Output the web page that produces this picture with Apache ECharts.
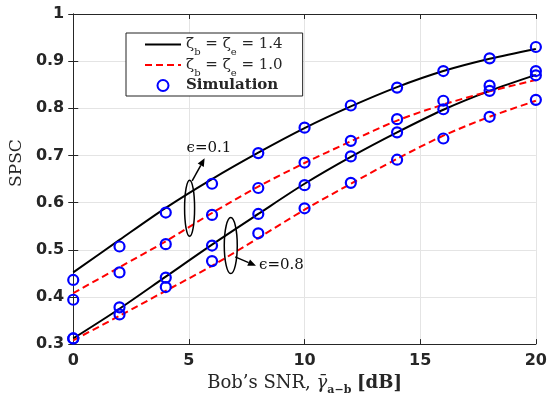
<!DOCTYPE html>
<html><head><meta charset="utf-8">
<script src="https://cdn.jsdelivr.net/npm/echarts@6/dist/echarts.min.js"></script>
<style>html,body{margin:0;padding:0;background:#fff}#c{width:550px;height:401px}</style>
</head><body><div id="c"></div>
<script>
// ---- data ----
const snr = [0, 2, 4, 6, 8, 10, 12, 14, 16, 18, 20];
const xTicks = [0, 5, 10, 15, 20];
const yTicks = [0.3, 0.4, 0.5, 0.6, 0.7, 0.8, 0.9, 1];
// analytical curves
const theo14_e01 = [0.452, 0.521, 0.589, 0.650, 0.706, 0.758, 0.804, 0.845, 0.879, 0.905, 0.926];
const theo10_e01 = [0.408, 0.463, 0.518, 0.578, 0.634, 0.684, 0.730, 0.774, 0.808, 0.836, 0.860];
const theo14_e08 = [0.312, 0.375, 0.443, 0.511, 0.576, 0.640, 0.697, 0.749, 0.797, 0.837, 0.871];
const theo10_e08 = [0.308, 0.360, 0.413, 0.466, 0.525, 0.585, 0.640, 0.693, 0.742, 0.782, 0.816];
// simulation points
const sim14_e01 = [0.436, 0.507, 0.579, 0.640, 0.705, 0.759, 0.806, 0.844, 0.879, 0.906, 0.930];
const sim10_e01 = [0.394, 0.452, 0.512, 0.574, 0.631, 0.685, 0.731, 0.777, 0.816, 0.848, 0.879];
const sim14_e08 = [0.312, 0.378, 0.441, 0.509, 0.576, 0.637, 0.698, 0.749, 0.798, 0.837, 0.870];
const sim10_e08 = [0.312, 0.363, 0.421, 0.476, 0.535, 0.588, 0.642, 0.691, 0.736, 0.782, 0.818];
const legendNames = ['L14', 'L10', 'Simulation'];
const legendValues = {L14: '1.4', L10: '1.0'};
const annText = ['\u03f5=0.1', '\u03f5=0.8'];
// annotation anchors in data coordinates
const annEllipse = [[5.03, 0.588], [6.81, 0.509]];
const annArrow = [[[5.14, 0.646], [5.68, 0.694]], [[7.0, 0.485], [7.9, 0.466]]];
const annLabel = [[4.9, 0.715], [8.03, 0.468]];

const pair = (ys) => snr.map((x, i) => [x, ys[i]]);
const AX = '#262626';
const serif = 'DejaVu Serif';
const sans = 'DejaVu Sans';

const chart = echarts.init(document.getElementById('c'));

function lineSeries(name, ys, color, type) {
  return {type: 'line', name, data: pair(ys), symbol: 'none', smooth: 0.3, z: 3,
    lineStyle: {color, width: 2, type, opacity: 1}, itemStyle: {color, opacity: 0}};
}
function simSeries(ys) {
  return {type: 'scatter', name: 'Simulation', data: pair(ys), symbol: 'circle', symbolSize: 10, z: 5,
    itemStyle: {color: 'rgba(0,0,0,0)', borderColor: '#0000ff', borderWidth: 2.2, opacity: 1}};
}

const richSub = {
  z: {fontFamily: serif, fontSize: 15, color: AX, lineHeight: 20},
  s: {fontFamily: serif, fontSize: 10, color: AX, lineHeight: 20, verticalAlign: 'bottom', padding: [0, 0, -3, 0]},
  b: {fontFamily: serif, fontSize: 15, color: AX, fontWeight: 'bold', lineHeight: 20}
};

const baseX = {type: 'value', min: 0, max: 20, interval: 5,
  axisLine: {show: true, lineStyle: {color: AX, width: 1}},
  axisTick: {show: true, inside: true, length: 5, lineStyle: {color: AX}}};
const baseY = {type: 'value', min: 0.3, max: 1, interval: 0.1,
  axisLine: {show: true, lineStyle: {color: AX, width: 1}},
  axisTick: {show: true, inside: true, length: 5, lineStyle: {color: AX}}};

chart.setOption({
  animation: false,
  backgroundColor: '#fff',
  grid: {left: 73, right: 10, top: 14, bottom: 53, show: false},
  legend: {
    data: legendNames, orient: 'vertical', left: 126, top: 33,
    itemWidth: 36, itemHeight: 11, itemGap: 0,
    backgroundColor: '#fff', borderColor: '#222', borderWidth: 1, borderRadius: 0,
    padding: [4, 20, 3, 18],
    formatter: function (n) {
      if (n === 'Simulation') return '{b|Simulation}';
      return '{z|\u03b6}{s|b}{z| = \u03b6}{s|e}{z| = ' + legendValues[n] + '}';
    },
    textStyle: {rich: richSub}
  },
  xAxis: [
    Object.assign({}, baseX, {position: 'bottom',
      axisLabel: {show: true, margin: 9, color: AX, fontFamily: sans, fontWeight: 'bold', fontSize: 16,
        formatter: v => xTicks.includes(v) ? String(v) : ''},
      splitLine: {show: true, lineStyle: {color: '#e4e4e4', width: 1}},
      name: '{n|Bob\u2019s SNR, }{g|\u03b3\u0304}{s|a\u2212b}{n| }{b|[dB]}',
      nameLocation: 'middle', nameGap: 25,
      nameTextStyle: {rich: {
        n: {fontFamily: serif, fontSize: 18, color: AX, lineHeight: 22},
        g: {fontFamily: serif, fontSize: 18, color: AX, lineHeight: 22, fontStyle: 'italic'},
        s: {fontFamily: serif, fontSize: 11, color: AX, fontWeight: 'bold', lineHeight: 22, verticalAlign: 'bottom', padding: [0, 0, -2, 0]},
        b: {fontFamily: serif, fontSize: 18, color: AX, fontWeight: 'bold', lineHeight: 22}
      }}}),
    Object.assign({}, baseX, {position: 'top', axisLabel: {show: false}, splitLine: {show: false}})
  ],
  yAxis: [
    Object.assign({}, baseY, {position: 'left',
      axisLabel: {show: true, margin: 9, color: AX, fontFamily: sans, fontWeight: 'bold', fontSize: 16,
        formatter: v => { const t = yTicks.find(k => Math.abs(k - v) < 1e-6); return t === undefined ? '' : String(t); }},
      splitLine: {show: true, lineStyle: {color: '#e4e4e4', width: 1}},
      name: 'SPSC', nameLocation: 'middle', nameGap: 37,
      nameTextStyle: {fontFamily: serif, fontSize: 17, color: AX, padding: [0, 0, 0, 32]}}),
    Object.assign({}, baseY, {position: 'right', axisLabel: {show: false}, splitLine: {show: false}})
  ],
  series: [
    lineSeries('L14', theo14_e01, '#000000', 'solid'),
    lineSeries('L14', theo14_e08, '#000000', 'solid'),
    lineSeries('L10', theo10_e01, '#ff0000', [7, 4]),
    lineSeries('L10', theo10_e08, '#ff0000', [7, 4]),
    simSeries(sim14_e01), simSeries(sim10_e01), simSeries(sim14_e08), simSeries(sim10_e08)
  ]
});

// annotations (ellipses, arrows, labels) positioned through the axes' scales
const px = (p) => chart.convertToPixel({xAxisIndex: 0, yAxisIndex: 0}, p);
const ellR = [[5, 28], [6.5, 28]];
const graphics = [];
for (let i = 0; i < 2; i++) {
  const c = px(annEllipse[i]);
  graphics.push({type: 'ellipse', shape: {cx: c[0], cy: c[1], rx: ellR[i][0], ry: ellR[i][1]},
    style: {fill: 'none', stroke: '#000', lineWidth: 1.5}, z: 10});
  const a = px(annArrow[i][0]), b = px(annArrow[i][1]);
  const ang = Math.atan2(b[1] - a[1], b[0] - a[0]);
  const L = 8, W = 3.5;
  const bx = b[0] - L * Math.cos(ang), by = b[1] - L * Math.sin(ang);
  graphics.push({type: 'line', shape: {x1: a[0], y1: a[1], x2: bx, y2: by},
    style: {stroke: '#000', lineWidth: 1.5}, z: 10});
  graphics.push({type: 'polygon', shape: {points: [b,
    [bx + W * Math.sin(ang), by - W * Math.cos(ang)],
    [bx - W * Math.sin(ang), by + W * Math.cos(ang)]]},
    style: {fill: '#000'}, z: 10});
  const t = px(annLabel[i]);
  graphics.push({type: 'text', x: t[0], y: t[1],
    style: {text: annText[i], fontFamily: serif, fontSize: 15, fill: '#111', verticalAlign: 'middle', align: 'left'}, z: 10});
}
chart.setOption({graphic: graphics});
</script></body></html>
